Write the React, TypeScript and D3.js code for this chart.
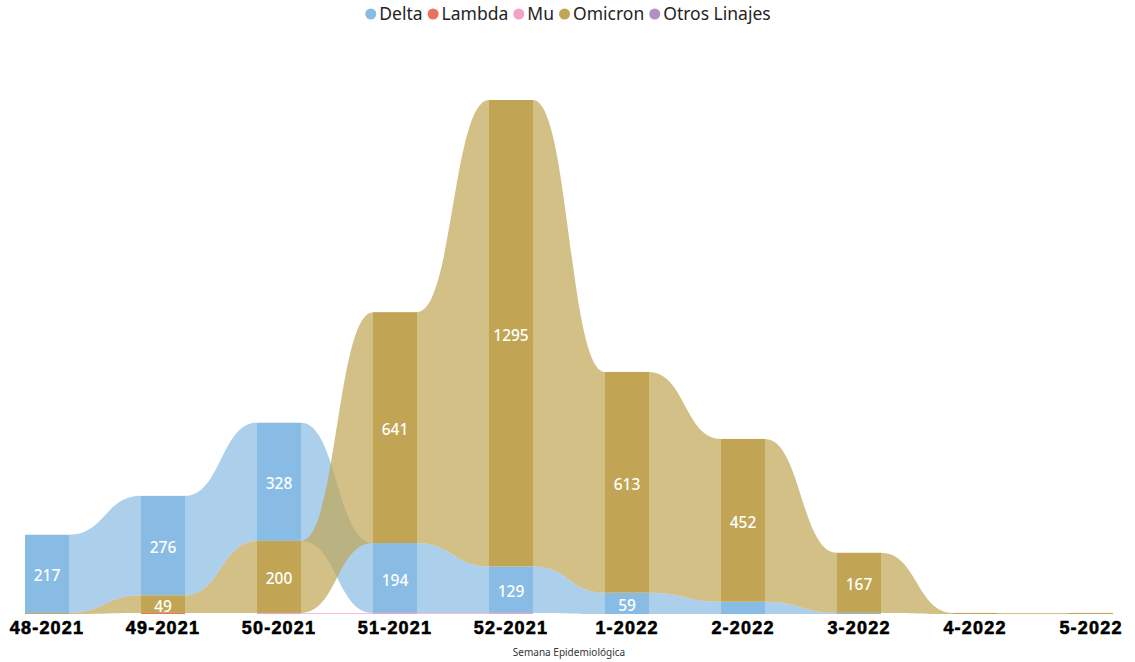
import React, { useEffect, useRef } from "react";
import * as d3 from "d3";

const categories = ["48-2021", "49-2021", "50-2021", "51-2021", "52-2021", "1-2022", "2-2022", "3-2022", "4-2022", "5-2022"];
const seriesNames = ["Delta", "Lambda", "Mu", "Omicron", "Otros Linajes"];
const seriesColors = ["#89BCE4", "#E8715F", "#F2A2C9", "#C1A554", "#B48EC6"];
const delta = [217, 276, 328, 194, 129, 59, 34, 3, 0, 0];
const lambda = [0, 3, 0, 0, 0, 0, 0, 0, 0, 0];
const mu = [0, 0, 3, 3, 3, 0, 0, 0, 0, 0];
const omicron = [3, 49, 200, 641, 1295, 613, 452, 167, 3, 3];
const otros = [0, 0, 0, 0, 0, 0, 0, 0, 0, 0];
const seriesValues = [delta, lambda, mu, omicron, otros];
const axisTitle = "Semana Epidemiológica";

const W = 1135;
const H = 662;

export default function App() {
  const ref = useRef<SVGSVGElement>(null);
  useEffect(() => {
    const svg = d3.select(ref.current);
    svg.selectAll("*").remove();

    const x = d3.scaleBand<string>().domain(categories).range([25, 1113]).paddingInner(72 / 116).paddingOuter(0);
    const totals = categories.map((_, i) => d3.sum(seriesValues, (s) => s[i]));
    const y = d3.scaleLinear().domain([0, d3.max(totals) as number]).range([614, 100]);

    type Seg = { s: number; i: number; v: number; y0: number; y1: number };
    const segs: (Seg | null)[][] = seriesNames.map(() => categories.map(() => null));
    categories.forEach((_, i) => {
      const order = seriesNames.map((_, s) => s).filter((s) => seriesValues[s][i] > 0)
        .sort((a, b) => seriesValues[a][i] - seriesValues[b][i]);
      let acc = 0;
      order.forEach((s) => {
        const v = seriesValues[s][i];
        segs[s][i] = { s, i, v, y0: acc, y1: acc + v };
        acc += v;
      });
    });

    const g = svg.append("g");
    const bw = x.bandwidth();
    seriesNames.forEach((_, s) => {
      for (let i = 0; i < categories.length - 1; i++) {
        const a = segs[s][i];
        const b = segs[s][i + 1];
        if (!a || !b) continue;
        const xa = (x(categories[i]) as number) + bw;
        const xb = x(categories[i + 1]) as number;
        const xm = (xa + xb) / 2;
        const p = d3.path();
        p.moveTo(xa, y(a.y1));
        p.bezierCurveTo(xm, y(a.y1), xm, y(b.y1), xb, y(b.y1));
        p.lineTo(xb, y(b.y0));
        p.bezierCurveTo(xm, y(b.y0), xm, y(a.y0), xa, y(a.y0));
        p.closePath();
        g.append("path").attr("d", p.toString()).attr("fill", seriesColors[s]).attr("fill-opacity", 0.7);
      }
    });

    seriesNames.forEach((_, s) => {
      categories.forEach((c, i) => {
        const sg = segs[s][i];
        if (!sg) return;
        g.append("rect")
          .attr("x", x(c) as number)
          .attr("width", bw)
          .attr("y", y(sg.y1))
          .attr("height", y(sg.y0) - y(sg.y1))
          .attr("fill", seriesColors[s]);
      });
    });

    seriesNames.forEach((_, s) => {
      categories.forEach((c, i) => {
        const sg = segs[s][i];
        if (!sg || sg.v < 40) return;
        g.append("text")
          .attr("x", (x(c) as number) + bw / 2)
          .attr("y", (y(sg.y0) + y(sg.y1)) / 2 + 2)
          .attr("dy", "0.36em")
          .attr("text-anchor", "middle")
          .attr("fill", "#ffffff")
          .attr("font-family", "'Noto Sans', 'Open Sans', sans-serif")
          .attr("font-weight", 500)
          .attr("font-size", 15.5)
          .text(String(sg.v));
      });
    });

    const axis = d3.axisBottom(x).tickSize(0).tickPadding(0);
    const ax = svg.append("g").attr("transform", "translate(0,621)").call(axis);
    ax.select(".domain").remove();
    ax.selectAll("text")
      .attr("dy", "0.71em")
      .attr("fill", "#000")
      .attr("stroke", "#000")
      .attr("stroke-width", 0.6)
      .attr("font-family", "'Liberation Sans', Arial, sans-serif")
      .attr("font-weight", 700)
      .attr("font-size", 18)
      .attr("letter-spacing", 1.2);

    svg.append("text")
      .attr("x", 569)
      .attr("y", 656)
      .attr("text-anchor", "middle")
      .attr("fill", "#333")
      .attr("font-family", "'Noto Sans', Roboto, sans-serif")
      .attr("font-size", 10)
      .text(axisTitle);

    const lg = svg.append("g");
    let cx = 0;
    seriesNames.forEach((n, s) => {
      const gg = lg.append("g").attr("transform", `translate(${cx},0)`);
      gg.append("circle").attr("cx", 5.5).attr("cy", 14).attr("r", 5.5).attr("fill", seriesColors[s]);
      const t = gg.append("text")
        .attr("x", 14)
        .attr("y", 14)
        .attr("dy", "0.35em")
        .attr("fill", "#252423")
        .attr("font-family", "'Noto Sans', 'Open Sans', sans-serif")
        .attr("font-size", 17.5)
        .text(n);
      const tw = (t.node() as SVGTextElement).getComputedTextLength();
      cx += 14 + tw + 5;
    });
    const total = cx - 5;
    lg.attr("transform", `translate(${568 - total / 2},0)`);
  }, []);
  return (
    <svg ref={ref} width={W} height={H} style={{ position: "absolute", left: 0, top: 0, background: "#fff" }} />
  );
}
